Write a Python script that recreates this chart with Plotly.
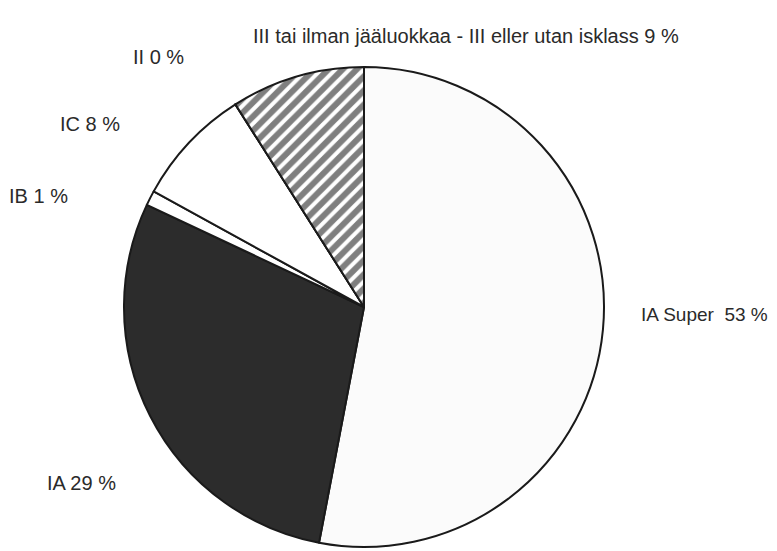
import plotly.graph_objects as go

labels = ["IA Super", "IA", "IB", "IC", "II", "III tai ilman jääluokkaa - III eller utan isklass"]
values = [53, 29, 1, 8, 0, 9]
label_text = ["IA Super  53 %", "IA 29 %", "IB 1 %", "IC 8 %", "II 0 %",
              "III tai ilman jääluokkaa - III eller utan isklass 9 %"]
# label positions in page pixels (left edge for the first, centres otherwise)
label_px = [639, 81, 38, 90, 158, 466]
label_py = [314, 483, 196, 124, 57, 36]
label_anchor = ["left", "center", "center", "center", "center", "center"]
label_size = [19, 20, 20, 20, 20, 20]

fills = ["#fbfbfb", "#2c2c2c", "#ffffff", "#ffffff", "#ffffff", "#ffffff"]
shapes = ["", "", "", "", "", "/"]

PAGE_W, PAGE_H = 777, 551
OFF = 8  # default body margin of the html page
W, H = PAGE_W - OFF, PAGE_H - OFF
cx, cy, r = 364 - OFF, 307 - OFF, 240

fig = go.Figure(go.Pie(
    labels=labels,
    values=values,
    sort=False,
    direction="clockwise",
    rotation=0,
    textinfo="none",
    hoverinfo="label+percent",
    showlegend=False,
    marker=dict(
        colors=fills,
        line=dict(color="#1a1a1a", width=2),
        pattern=dict(shape=shapes, fgcolor="#000000", bgcolor="#ffffff",
                     size=10, solidity=0.6, fillmode="overlay"),
    ),
    domain=dict(x=[(cx - r) / W, (cx + r) / W], y=[(H - cy - r) / H, (H - cy + r) / H]),
))

font_family = "Liberation Sans, Arial, sans-serif"
for t, px, py, a, s in zip(label_text, label_px, label_py, label_anchor, label_size):
    fig.add_annotation(text=t, x=(px - OFF) / W, y=1 - (py - OFF) / H,
                       xref="paper", yref="paper",
                       xanchor=a, yanchor="middle", showarrow=False,
                       font=dict(family=font_family, size=s, color="#2a2a2a"))

fig.update_layout(
    width=W, height=H,
    margin=dict(l=0, r=0, t=0, b=0),
    paper_bgcolor="white",
    plot_bgcolor="white",
)

fig.write_html("out.html")
